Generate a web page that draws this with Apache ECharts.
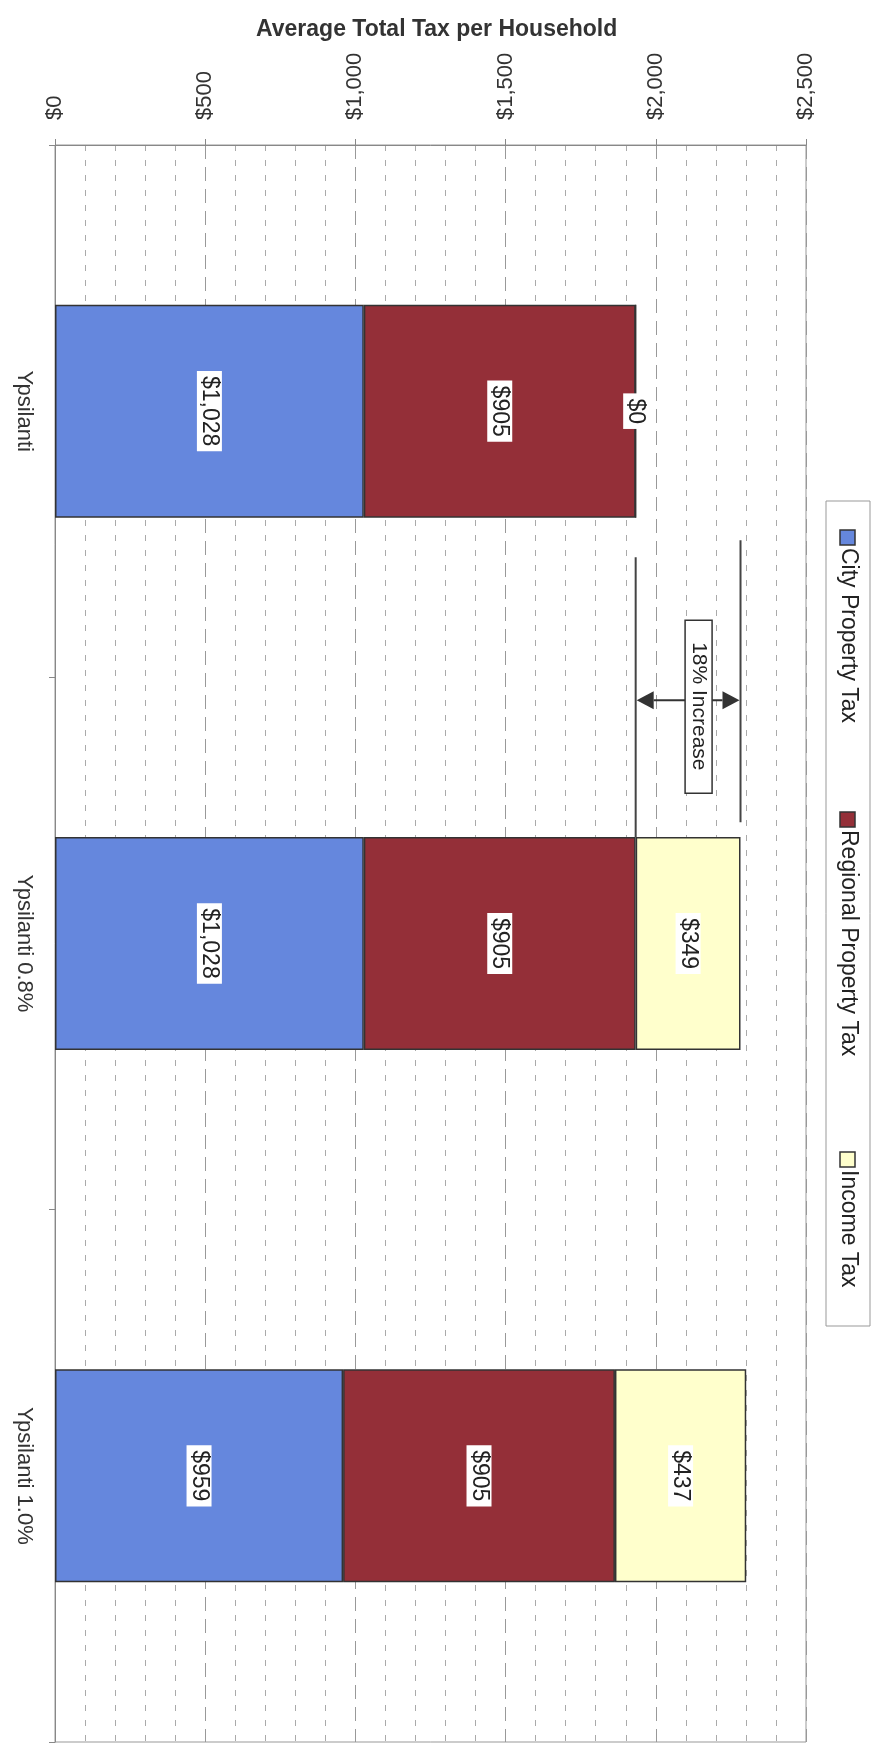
<!DOCTYPE html>
<html>
<head>
<meta charset="utf-8">
<title>Average Total Tax per Household</title>
<script src="https://cdn.jsdelivr.net/npm/echarts/dist/echarts.min.js"></script>
<style>
  html, body { margin: 0; padding: 0; background: #fff; }
  #main { width: 883px; height: 1748px; }
</style>
</head>
<body>
<div id="main"></div>
<script>
// data
var categories = ['Ypsilanti', 'Ypsilanti 0.8%', 'Ypsilanti 1.0%'];
var cityTax = [1028, 1028, 959];
var regionalTax = [905, 905, 905];
var incomeTax = [0, 349, 437];
var seriesNames = ['City Property Tax', 'Regional Property Tax', 'Income Tax'];
var valueMin = 0, valueMax = 2500, valueStep = 500;
var increaseText = '18% Increase';

var FONT = 'Liberation Sans, Arial, sans-serif';
var colors = ['#6587dd', '#942f38', '#ffffcc'];
var seriesData = [cityTax, regionalTax, incomeTax];

function money(v) {
    return '$' + Number(v).toLocaleString('en-US');
}

var chart = echarts.init(document.getElementById('main'));

var option = {
    backgroundColor: '#fff',
    animation: false,
    title: {
        text: 'Average Total Tax per Household',
        left: 251,
        top: 13,
        textStyle: { fontSize: 23, fontWeight: 'bold', color: '#333', fontFamily: FONT }
    },
    grid: {
        left: 55, right: 77, top: 145, bottom: 6,
        show: true, borderColor: '#999', borderWidth: 1,
        outerBoundsMode: 'none'
    },
    xAxis: {
        type: 'value',
        position: 'top',
        min: valueMin, max: valueMax, interval: valueStep,
        axisLine: { show: true, lineStyle: { color: '#888', width: 1 } },
        axisTick: { show: true, length: 6, lineStyle: { color: '#888' } },
        axisLabel: { rotate: -90, margin: 25, fontSize: 22, color: '#333', fontFamily: FONT, formatter: money },
        splitLine: { show: true, lineStyle: { color: '#999', width: 1, type: [14, 8] } },
        minorTick: { show: false, splitNumber: 5 },
        minorSplitLine: { show: true, lineStyle: { color: '#aaa', width: 1, type: [6, 9] } }
    },
    yAxis: {
        type: 'category',
        inverse: true,
        data: categories,
        axisLine: { show: true, lineStyle: { color: '#888' } },
        axisTick: { show: true, length: 6, lineStyle: { color: '#888' } },
        axisLabel: { rotate: -90, margin: 20, fontSize: 22, color: '#333', fontFamily: FONT },
        splitLine: { show: false }
    },
    series: seriesNames.map(function (name, i) {
        return {
            name: name,
            type: 'bar',
            stack: 'tax',
            barWidth: '40%',
            data: seriesData[i],
            itemStyle: { color: colors[i], borderColor: '#333', borderWidth: 1.5 },
            label: {
                show: true,
                position: 'inside',
                rotate: -90,
                fontSize: 23,
                fontFamily: FONT,
                color: '#222',
                backgroundColor: '#fff',
                padding: [1, 5],
                formatter: function (p) { return money(p.value); }
            }
        };
    })
};
chart.setOption(option);

// annotation + legend, placed from the axes
var px = function (v) { return chart.convertToPixel({ xAxisIndex: 0 }, v); };
var py = function (c) { return chart.convertToPixel({ yAxisIndex: 0 }, c); };

var baseTotal = cityTax[0] + regionalTax[0] + incomeTax[0];
var newTotal = cityTax[1] + regionalTax[1] + incomeTax[1];
var xa = px(baseTotal), xb = px(newTotal);
var c0 = py(categories[0]), c1 = py(categories[1]);
var band = c1 - c0;
var yMid = (c0 + c1) / 2;
var barTop1 = c1 - band * 0.2;
var yArrow = yMid + 23;
var head = 18;

var graphics = [
    { type: 'line', shape: { x1: xa, y1: yMid - 120, x2: xa, y2: barTop1 }, style: { stroke: '#444', lineWidth: 2 } },
    { type: 'line', shape: { x1: xb, y1: yMid - 137, x2: xb, y2: yMid + 145 }, style: { stroke: '#444', lineWidth: 2 } },
    { type: 'line', shape: { x1: xa + head, y1: yArrow, x2: xb - head, y2: yArrow }, style: { stroke: '#333', lineWidth: 2 } },
    { type: 'polygon', shape: { points: [[xa + 1, yArrow], [xa + head, yArrow - 9], [xa + head, yArrow + 9]] }, style: { fill: '#333' } },
    { type: 'polygon', shape: { points: [[xb - 1, yArrow], [xb - head, yArrow - 9], [xb - head, yArrow + 9]] }, style: { fill: '#333' } },
    { type: 'rect', shape: { x: (xa + xb) / 2 - 3, y: yMid + 29 - 86, width: 27, height: 173 }, style: { fill: '#fff', stroke: '#333', lineWidth: 1.5 } },
    { type: 'text', x: (xa + xb) / 2 + 10.5, y: yMid + 29, rotation: -Math.PI / 2,
      style: { text: increaseText, fontSize: 21, fontFamily: FONT, fill: '#222', align: 'center', verticalAlign: 'middle' } },
    // legend box
    { type: 'rect', shape: { x: 826, y: 501, width: 44, height: 825 }, style: { fill: '#fff', stroke: '#999', lineWidth: 1 } }
];

var legendTops = [530, 812, 1152];
seriesNames.forEach(function (name, i) {
    graphics.push({ type: 'rect', shape: { x: 840, y: legendTops[i], width: 15, height: 15 }, style: { fill: colors[i], stroke: '#333', lineWidth: 1.5 } });
    graphics.push({ type: 'text', x: 848, y: legendTops[i] + 18, rotation: -Math.PI / 2,
        style: { text: name, fontSize: 23, fontFamily: FONT, fill: '#222', align: 'left', verticalAlign: 'middle' } });
});

chart.setOption({ graphic: graphics });
</script>
</body>
</html>
